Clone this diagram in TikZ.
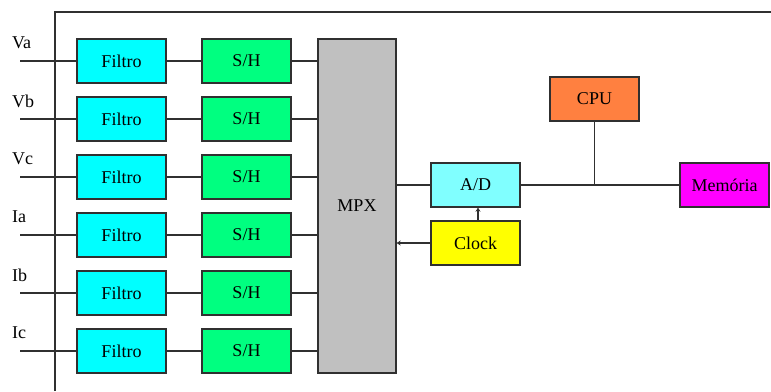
\documentclass[tikz,border=0pt]{standalone}
\usepackage{fontspec}
\setmainfont{Liberation Serif}
\usetikzlibrary{arrows.meta}
\definecolor{cfil}{HTML}{00FFFF}
\definecolor{csh}{HTML}{00FF80}
\definecolor{cmpx}{HTML}{C0C0C0}
\definecolor{cad}{HTML}{80FFFF}
\definecolor{cclk}{HTML}{FFFF00}
\definecolor{ccpu}{HTML}{FF8040}
\definecolor{cmem}{HTML}{FF00FF}
\definecolor{cline}{HTML}{303030}
\begin{document}
\begin{tikzpicture}[x=1pt,y=-1pt,
  blk/.style={draw=cline,line width=1.3pt,minimum width=89pt,minimum height=44pt,inner sep=0pt,font=\fontsize{18}{21}\selectfont},
  wire/.style={draw=cline,line width=1.3pt},
  lbl/.style={anchor=west,inner sep=0pt,font=\fontsize{18}{21}\selectfont},
  arr/.style={wire,-{Stealth[length=4pt,width=5pt]}}]
\useasboundingbox (0,0) rectangle (771,391);
\fill[white] (0,0) rectangle (771,391);
% frame
\draw[wire] (55,391) -- (55,12) -- (771,12);
% MPX
\node[blk,fill=cmpx,minimum width=78pt,minimum height=334pt] (mpx) at (357,206) {MPX};
% rows
\foreach \i/\y/\t in {1/61/Va,2/119/Vb,3/177/Vc,4/235/Ia,5/293/Ib,6/351/Ic}{
  \node[blk,fill=cfil] (f\i) at (121.5,\y) {Filtro};
  \node[blk,fill=csh] (s\i) at (246.5,\y) {S/H};
  \coordinate (in\i) at (20,\y);
  \node[lbl] (l\i) at (12,\y-18) {\t};
  \draw[wire] (in\i) -- (f\i.west);
  \draw[wire] (f\i) -- (s\i);
  \draw[wire] (s\i.east) -- (s\i.east -| mpx.west);
}
\node[blk,fill=cad] (ad) at (475.5,185) {A/D};
\node[blk,fill=cclk] (clk) at (475.5,243) {Clock};
\node[blk,fill=ccpu] (cpu) at (594.5,99) {CPU};
\node[blk,fill=cmem] (mem) at (724.5,185) {Memória};
\draw[wire] (ad.west -| mpx.east) -- (ad.west);
\draw[wire] (ad) -- (mem);
\coordinate (bus) at (cpu.south |- ad.east);
\draw[wire] (cpu) -- (bus);
\draw[arr] (clk.west) -- (clk.west -| mpx.east);
\draw[arr] ([xshift=2.5pt]clk.north) -- ([xshift=2.5pt]ad.south);
\end{tikzpicture}
\end{document}
